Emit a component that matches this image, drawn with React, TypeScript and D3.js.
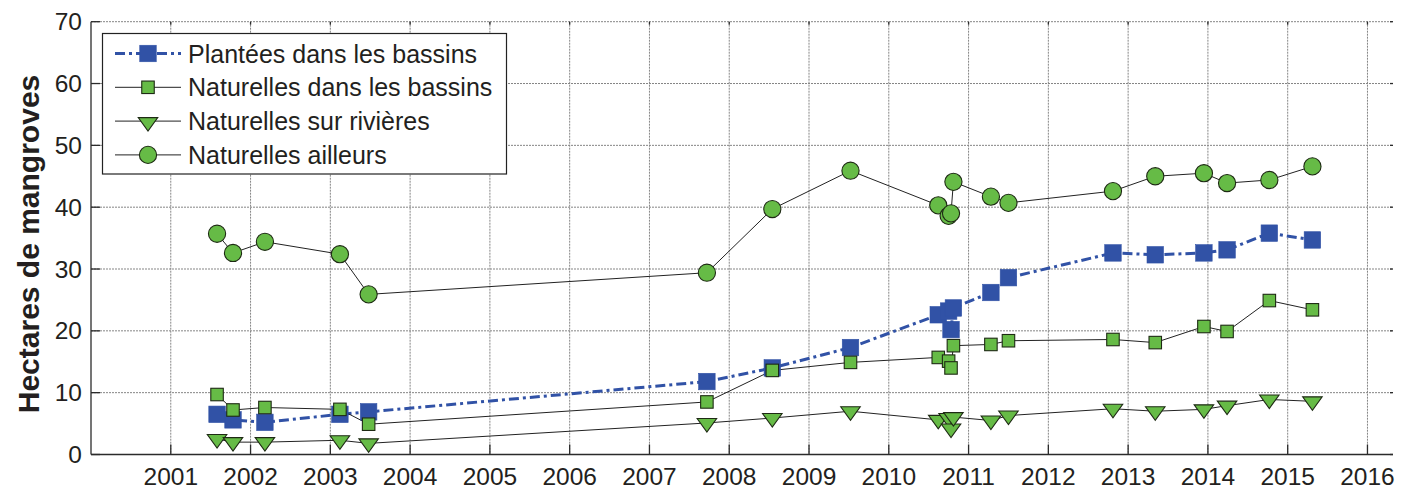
import React from "react";
import * as d3 from "d3";

const years = [2001.58, 2001.78, 2002.18, 2003.12, 2003.48, 2007.72, 2008.54, 2009.52, 2010.62, 2010.75, 2010.78, 2010.81, 2011.28, 2011.5, 2012.81, 2013.34, 2013.95, 2014.24, 2014.77, 2015.31];
const plantees = [6.5, 5.6, 5.2, 6.5, 6.9, 11.8, 14.0, 17.3, 22.6, 23.2, 20.2, 23.7, 26.2, 28.6, 32.6, 32.3, 32.6, 33.1, 35.8, 34.7];
const natBassins = [9.7, 7.2, 7.6, 7.3, 4.9, 8.5, 13.6, 14.9, 15.7, 15.1, 14.0, 17.6, 17.8, 18.4, 18.6, 18.1, 20.7, 19.9, 24.9, 23.4];
const natRivieres = [2.5, 2.0, 2.0, 2.3, 1.8, 5.1, 5.9, 7.0, 5.6, 5.9, 4.2, 6.05, 5.5, 6.3, 7.4, 7.0, 7.3, 7.9, 8.9, 8.6];
const natAilleurs = [35.7, 32.6, 34.4, 32.4, 25.9, 29.4, 39.7, 45.9, 40.3, 38.6, 39.0, 44.1, 41.7, 40.7, 42.6, 45.0, 45.5, 43.9, 44.4, 46.6];

const xTicks = d3.range(2001, 2017);
const yTicks = [0, 10, 20, 30, 40, 50, 60, 70];
const legendLabels = [
  "Plantées dans les bassins",
  "Naturelles dans les bassins",
  "Naturelles sur rivières",
  "Naturelles ailleurs",
];

const W = 1401;
const H = 490;
const FONT = "'Liberation Sans', Arial, Helvetica, sans-serif";
const BLUE = "#3152a6";
const GREEN = "#66bb46";
const EDGE = "#1e2a14";
const TEXT = "#231f20";

type Kind = "blue" | "sq" | "tri" | "circ";

function Marker({ kind, x, y }: { kind: Kind; x: number; y: number }) {
  if (kind === "blue") {
    const s = 16.5;
    return <rect x={x - s / 2} y={y - s / 2} width={s} height={s} fill={BLUE} stroke={BLUE} strokeWidth={0.6} />;
  }
  if (kind === "sq") {
    const s = 12.5;
    return <rect x={x - s / 2} y={y - s / 2} width={s} height={s} fill={GREEN} stroke={EDGE} strokeWidth={1.1} />;
  }
  if (kind === "tri") {
    const w = 19.5;
    const h = 13.5;
    const top = y - h / 3;
    const p = `M${x - w / 2},${top}L${x + w / 2},${top}L${x},${top + h}Z`;
    return <path d={p} fill={GREEN} stroke={EDGE} strokeWidth={1.1} strokeLinejoin="miter" />;
  }
  return <circle cx={x} cy={y} r={8.6} fill={GREEN} stroke={EDGE} strokeWidth={1.1} />;
}

export default function App() {
  const x = d3.scaleLinear().domain([2000, 2016.32]).range([91, 1393]);
  const y = d3.scaleLinear().domain([0, 70]).range([454.5, 21.7]);

  const line = (vals: number[]) =>
    d3
      .line<number>()
      .x((_, i) => x(years[i]))
      .y((v) => y(v))(vals) as string;

  const series: { vals: number[]; kind: Kind }[] = [
    { vals: plantees, kind: "blue" },
    { vals: natBassins, kind: "sq" },
    { vals: natRivieres, kind: "tri" },
    { vals: natAilleurs, kind: "circ" },
  ];

  const x0 = x.range()[0];
  const x1 = x.range()[1];
  const yb = y(0);
  const yt = y(70);

  const legX = 102.5;
  const legY = 33.5;
  const legW = 404;
  const legH = 140.5;
  const rowY = (i: number) => 53.5 + i * 33.8;

  return (
    <svg
      width={W}
      height={H}
      style={{ position: "absolute", left: 0, top: 0, display: "block", background: "#fff" }}
      fontFamily={FONT}
    >
      <rect x={0} y={0} width={W} height={H} fill="#fff" />
      {/* grid */}
      <g stroke="#858585" strokeWidth={1} strokeDasharray="2,1">
        {xTicks.map((t) => (
          <line key={"gx" + t} x1={x(t)} x2={x(t)} y1={yt} y2={yb} />
        ))}
        {yTicks.filter((t) => t > 0).map((t) => (
          <line key={"gy" + t} x1={x0} x2={x1} y1={y(t)} y2={y(t)} />
        ))}
      </g>
      {/* axes */}
      <g stroke="#2b2b2b" strokeWidth={1.3}>
        <line x1={x0} x2={x0} y1={yt} y2={yb} />
        <line x1={x0} x2={x1} y1={yb} y2={yb} />
        {xTicks.map((t) => (
          <line key={"tx" + t} x1={x(t)} x2={x(t)} y1={yb} y2={yb - 10} />
        ))}
        {xTicks.map((t) => (
          <line key={"ttx" + t} x1={x(t)} x2={x(t)} y1={yt} y2={yt + 3} />
        ))}
        {yTicks.map((t) => (
          <line key={"ty" + t} x1={x0} x2={x0 + 9} y1={y(t)} y2={y(t)} />
        ))}
        {yTicks.map((t) => (
          <line key={"try" + t} x1={x1 - 3} x2={x1} y1={y(t)} y2={y(t)} />
        ))}
      </g>
      {/* tick labels */}
      <g fill={TEXT} fontSize={24.5}>
        {xTicks.map((t) => (
          <text key={"lx" + t} x={x(t)} y={485} textAnchor="middle">
            {t}
          </text>
        ))}
        {yTicks.map((t) => (
          <text key={"ly" + t} x={82} y={y(t) + 8.5} textAnchor="end">
            {t}
          </text>
        ))}
      </g>
      <text
        transform={`translate(39,244) rotate(-90)`}
        textAnchor="middle"
        fontWeight="bold"
        fontSize={30}
        fill={TEXT}
      >
        Hectares de mangroves
      </text>
      {/* lines */}
      <path d={line(plantees)} fill="none" stroke={BLUE} strokeWidth={3} strokeDasharray="10,4,3,4" />
      <path d={line(natBassins)} fill="none" stroke="#222" strokeWidth={1} />
      <path d={line(natRivieres)} fill="none" stroke="#222" strokeWidth={1} />
      <path d={line(natAilleurs)} fill="none" stroke="#222" strokeWidth={1} />
      {/* markers */}
      {series.map((s, si) => (
        <g key={"s" + si}>
          {s.vals.map((v, i) => (
            <Marker key={i} kind={s.kind} x={x(years[i])} y={y(v)} />
          ))}
        </g>
      ))}
      {/* legend */}
      <rect x={legX} y={legY} width={legW} height={legH} fill="#fff" stroke="#222" strokeWidth={1.2} />
      {series.map((s, i) => (
        <g key={"lg" + i}>
          <line
            x1={115}
            x2={181}
            y1={rowY(i)}
            y2={rowY(i)}
            stroke={s.kind === "blue" ? BLUE : "#222"}
            strokeWidth={s.kind === "blue" ? 3 : 1}
            strokeDasharray={s.kind === "blue" ? "10,4,3,4" : undefined}
          />
          <Marker kind={s.kind} x={148} y={s.kind === "tri" ? rowY(i) + 1 : rowY(i)} />
          <text x={188} y={rowY(i) + 9} fontSize={25} fill={TEXT}>
            {legendLabels[i]}
          </text>
        </g>
      ))}
    </svg>
  );
}
